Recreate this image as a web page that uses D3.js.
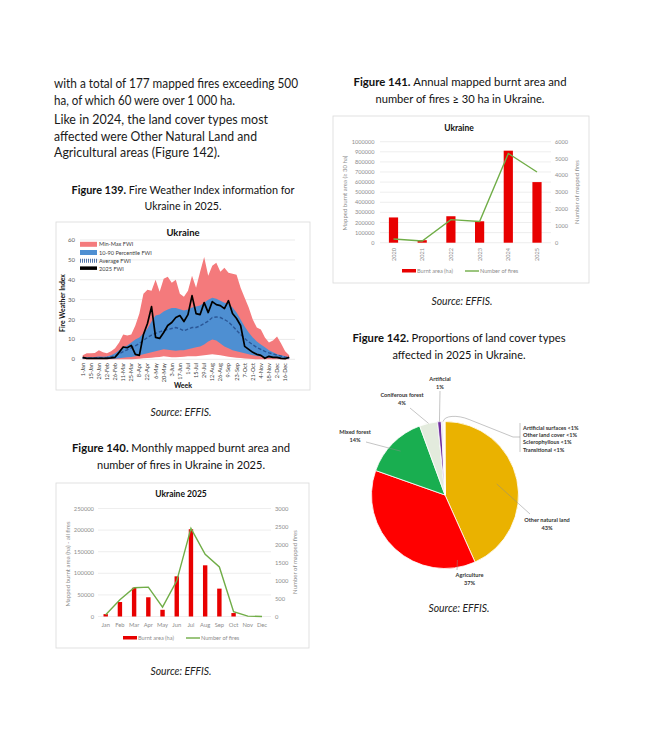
<!DOCTYPE html>
<html><head><meta charset="utf-8">
<script src="https://cdn.jsdelivr.net/npm/d3@7"></script>
<style>
body{margin:0;background:#fff;}
svg{display:block;}
text{font-family:Lato,"Open Sans",sans-serif;}
</style>
</head><body>
<svg id="c" width="652" height="743"></svg>
<script>
// ---------------- DATA ----------------
const bodyLines = [
  "with a total of 177 mapped fires exceeding 500",
  "ha, of which 60 were over 1 000 ha.",
  "Like in 2024, the land cover types most",
  "affected were Other Natural Land and",
  "Agricultural areas (Figure 142)."
];
const weekLabels = ["1-Jan","15-Jan","29-Jan","12-Feb","26-Feb","11-Mar","25-Mar","8-Apr","22-Apr","6-May","20-May","3-Jun","17-Jun","1-Jul","15-Jul","29-Jul","12-Aug","26-Aug","9-Sep","23-Sep","7-Oct","21-Oct","4-Nov","18-Nov","2-Dec","16-Dec"];
const fwiTicks = [0,10,20,30,40,50,60];
const fwiMax = [2.0,3.0,3.0,3.2,4.5,3.5,3.0,4.0,5.5,8.5,12.5,12.0,12.5,17.0,23.0,33.0,35.0,34.5,40.0,34.0,40.5,41.5,38.5,40.0,33.0,31.5,34.5,42.0,36.0,44.0,51.5,42.0,47.0,48.5,44.0,46.0,43.5,43.0,42.5,36.0,31.0,26.0,20.0,16.0,15.0,11.0,8.5,9.5,11.5,8.0,4.0,2.0];
const fwiMin = [0,0,0,0,0,0,0,0,0,0,0,0,0,0.2,0.3,0.5,0.7,0.8,1.0,1.2,1.5,1.3,1.0,1.0,1.2,1.3,1.5,1.5,1.5,1.8,2.0,2.3,2.5,2.3,2.0,1.6,1.3,1.0,0.8,0.6,0.4,0.3,0.1,0,0,0,0,0,0,0,0,0];
const fwiP90 = [1.2,1.0,1.0,1.2,1.4,1.3,1.4,2.0,3.0,4.5,6.0,7.0,8.5,10.0,11.0,13.0,15.5,19.0,22.0,22.5,24.0,25.0,25.8,25.8,25.2,24.5,25.0,26.0,26.5,27.0,28.5,30.0,31.0,30.5,29.5,28.5,28.0,26.0,23.5,20.0,16.5,13.5,11.0,9.0,7.5,6.0,4.5,3.5,2.5,2.0,1.5,1.0];
const fwiP10 = [0.2,0.2,0.2,0.2,0.2,0.2,0.2,0.3,0.3,0.5,0.8,1.0,1.2,1.5,2.0,2.5,3.0,3.5,4.0,4.5,5.0,4.8,4.5,4.3,4.5,4.5,5.0,5.5,6.0,6.5,7.5,9.0,10.0,9.5,8.0,6.5,5.5,4.5,4.0,3.5,3.0,2.5,2.0,1.7,1.4,1.1,0.9,0.7,0.5,0.4,0.3,0.2];
const fwiAvg = [0.8,0.6,0.6,0.7,0.8,0.8,0.9,1.2,1.8,2.8,3.8,4.8,5.8,6.8,8.0,9.5,11.0,12.2,13.0,13.8,14.5,15.0,15.5,16.0,15.3,14.3,15.2,16.0,16.0,16.8,18.0,19.2,21.0,21.3,21.0,20.0,18.8,16.8,14.6,12.5,10.5,8.8,7.3,6.0,5.0,4.0,3.2,2.7,2.1,1.6,1.1,0.8];
const fwi2025 = [1.0,0.5,0.5,0.5,0.5,0.5,0.5,0.7,1.0,3.5,6.2,5.8,7.0,2.5,2.0,12.5,18.0,26.5,11.0,10.5,13.5,17.0,18.5,21.0,22.0,19.0,22.5,32.0,23.0,22.5,28.5,23.5,29.0,27.5,27.0,25.5,29.5,23.0,20.5,17.0,6.5,5.0,3.5,2.5,2.0,0.5,1.5,1.0,1.0,0.5,0.3,1.0];

const months = ["Jan","Feb","Mar","Apr","May","Jun","Jul","Aug","Sep","Oct","Nov","Dec"];
const monthlyArea = [5500,33500,66500,44500,15500,93000,202000,118500,64500,8000,0,0];
const monthlyFires = [50,465,800,815,260,990,2450,1730,1375,135,10,0];
const monthlyAreaTicks = [0,50000,100000,150000,200000,250000];
const monthlyFireTicks = [0,500,1000,1500,2000,2500,3000];

const years = ["2020","2021","2022","2023","2024","2025"];
const annualArea = [250000,25000,262000,212000,911000,600000];
const annualFires = [220,100,1370,1260,5300,4200];
const annualAreaTicks = [0,100000,200000,300000,400000,500000,600000,700000,800000,900000,1000000];
const annualFireTicks = [0,1000,2000,3000,4000,5000,6000];

const landNames = ["Other natural land","Agriculture","Mixed forest","Coniferous forest","Artificial","Artificial surfaces","Other land cover","Sclerophyllous","Transitional"];
const landShare = [43.3,37.1,14.0,4.0,0.8,0.3,0.2,0.2,0.1];
const landLabels = ["43%","37%","14%","4%","1%","<1%","<1%","<1%","<1%"];
const landColors = ["#EAB200","#FF0000","#19AE50","#E3EBDD","#7030A0","#BFBFBF","#D9D9D9","#EDEDED","#FFF2CC"];

// ---------------- HELPERS ----------------
const svg = d3.select("#c");
svg.append("rect").attr("width",652).attr("height",743).attr("fill","#fff");

function fitText(t, w){ t.attr("textLength", w).attr("lengthAdjust","spacingAndGlyphs"); return t; }

function caption(cx, y1, y2, bold, l1, l2, w1, w2){
  const t = svg.append("text").attr("x",cx).attr("y",y1).attr("text-anchor","middle")
    .style("font-size","11.5px").attr("fill","#111");
  t.append("tspan").attr("font-weight","bold").text(bold+" ");
  t.append("tspan").text(l1);
  fitText(t,w1);
  fitText(svg.append("text").attr("x",cx).attr("y",y2).attr("text-anchor","middle")
    .style("font-size","11.5px").attr("fill","#111").text(l2), w2);
}
function source(cx, y){
  fitText(svg.append("text").attr("x",cx).attr("y",y).attr("text-anchor","middle")
    .style("font-size","11px").style("font-style","italic").attr("fill","#222").text("Source: EFFIS."), 61);
}
function box(x,y,w,h){
  svg.append("rect").attr("x",x).attr("y",y).attr("width",w).attr("height",h)
    .attr("fill","#fff").attr("stroke","#D9D9D9").attr("stroke-width",0.8);
}

// ---------------- BODY TEXT ----------------
const bodyY = [88,105,124,141,157];
const bodyW = [244,181,214,203,166];
bodyLines.forEach((s,i)=>{
  fitText(svg.append("text").attr("x",54).attr("y",bodyY[i]).style("font-size","13px").attr("fill","#1a1a1a").text(s), bodyW[i]);
});

// ---------------- FIGURE 139 : FWI ----------------
caption(183, 194, 210, "Figure 139.", "Fire Weather Index information for", "Ukraine in 2025.", 223, 77);
box(56,222,254,168);
{
  const x = d3.scaleLinear().domain([0,51]).range([82.7,289.2]);
  const y = d3.scaleLinear().domain([0,60]).range([359.3,240]);
  const g = svg.append("g");
  g.selectAll("line.grid").data(fwiTicks).join("line")
    .attr("x1",80).attr("x2",295).attr("y1",d=>y(d)).attr("y2",d=>y(d))
    .attr("stroke","#E3E3E3").attr("stroke-width",0.7);
  g.selectAll("text.yt").data(fwiTicks).join("text")
    .attr("x",75).attr("y",d=>y(d)+2).attr("text-anchor","end")
    .style("font-size","6px").attr("fill","#595959").text(d=>d);
  const idx = d3.range(52);
  g.append("path").datum(idx).attr("fill","#F47A7C")
    .attr("d", d3.area().x(i=>x(i)).y0(i=>y(fwiMin[i])).y1(i=>y(fwiMax[i])));
  g.append("path").datum(idx).attr("fill","#4E8FD2")
    .attr("d", d3.area().x(i=>x(i)).y0(i=>y(fwiP10[i])).y1(i=>y(fwiP90[i])));
  g.append("path").datum(idx).attr("fill","none").attr("stroke","#2B5797").attr("stroke-width",1.4)
    .attr("stroke-dasharray","3.5,2")
    .attr("d", d3.line().x(i=>x(i)).y(i=>y(fwiAvg[i])));
  g.append("path").datum(idx).attr("fill","none").attr("stroke","#000").attr("stroke-width",1.7)
    .attr("stroke-linejoin","round")
    .attr("d", d3.line().x(i=>x(i)).y(i=>y(fwi2025[i])));
  g.selectAll("text.xt").data(weekLabels).join("text")
    .attr("transform",(d,k)=>`translate(${x(2*k)+2},363) rotate(-90)`)
    .attr("text-anchor","end").style("font-size","5.6px").attr("fill","#404040").text(d=>d);
  g.append("text").attr("x",183).attr("y",235.5).attr("text-anchor","middle")
    .style("font-size","9.5px").attr("font-weight","bold").attr("fill","#111").text("Ukraine");
  g.append("text").attr("transform","translate(64.5,303) rotate(-90)").attr("text-anchor","middle")
    .style("font-size","6.8px").attr("font-weight","bold").attr("fill","#111").text("Fire Weather Index");
  g.append("text").attr("x",183).attr("y",388).attr("text-anchor","middle")
    .style("font-size","7px").attr("font-weight","bold").attr("fill","#111").text("Week");
  // legend
  const leg = [
    {n:"Min-Max FWI",t:"rect",c:"#F47A7C"},
    {n:"10-90 Percentile FWI",t:"rect",c:"#4E8FD2"},
    {n:"Average FWI",t:"dash",c:"#2B5797"},
    {n:"2025 FWI",t:"rect",c:"#000"}
  ];
  const ly = [244.3,252.5,260.7,268.9];
  leg.forEach((l,i)=>{
    if(l.t==="rect") g.append("rect").attr("x",80).attr("y",ly[i]-2.5).attr("width",17).attr("height",l.c==="#000"?3.5:5).attr("fill",l.c);
    else g.append("line").attr("x1",80).attr("x2",97).attr("y1",ly[i]).attr("y2",ly[i]).attr("stroke",l.c).attr("stroke-width",4).attr("stroke-dasharray","1,1").attr("opacity",0.8);
    g.append("text").attr("x",99).attr("y",ly[i]+2).style("font-size","5.6px").attr("fill","#404040").text(l.n);
  });
}
source(181, 416);

// ---------------- FIGURE 140 : MONTHLY ----------------
caption(181, 452, 469, "Figure 140.", "Monthly mapped burnt area and", "number of fires in Ukraine in 2025.", 218, 168);
box(56,483,253,165);
{
  const x = d3.scalePoint().domain(months).range([105.7,262]);
  const ya = d3.scaleLinear().domain([0,250000]).range([616.5,508.5]);
  const yf = d3.scaleLinear().domain([0,3000]).range([616.5,508.5]);
  const g = svg.append("g");
  g.selectAll("line.grid").data(monthlyAreaTicks).join("line")
    .attr("x1",98).attr("x2",271).attr("y1",d=>ya(d)).attr("y2",d=>ya(d))
    .attr("stroke","#E6E6E6").attr("stroke-width",0.7);
  g.selectAll("text.yl").data(monthlyAreaTicks).join("text")
    .attr("x",94).attr("y",d=>ya(d)+2).attr("text-anchor","end")
    .style("font-size","5.8px").attr("fill","#8C8C8C").text(d=>d);
  g.selectAll("text.yr").data(monthlyFireTicks).join("text")
    .attr("x",275).attr("y",d=>yf(d)+2).style("font-size","5.8px").attr("fill","#8C8C8C").text(d=>d);
  g.selectAll("rect.bar").data(monthlyArea).join("rect")
    .attr("x",(d,i)=>x(months[i])-2.2).attr("width",4.4)
    .attr("y",d=>ya(d)).attr("height",d=>ya(0)-ya(d)).attr("fill","#E80000");
  g.append("path").datum(monthlyFires).attr("fill","none").attr("stroke","#70AD47").attr("stroke-width",1.4)
    .attr("d", d3.line().x((d,i)=>x(months[i])).y(d=>yf(d)));
  g.selectAll("text.xt").data(months).join("text")
    .attr("x",d=>x(d)).attr("y",627).attr("text-anchor","middle")
    .style("font-size","5.8px").attr("fill","#8C8C8C").text(d=>d);
  g.append("text").attr("x",181).attr("y",497).attr("text-anchor","middle")
    .style("font-size","8.5px").attr("font-weight","bold").attr("fill","#111").text("Ukraine 2025");
  g.append("text").attr("transform","translate(70,564) rotate(-90)").attr("text-anchor","middle")
    .style("font-size","6px").attr("fill","#8C8C8C").text("Mapped burnt area (ha) - all fires");
  g.append("text").attr("transform","translate(297,562) rotate(-90)").attr("text-anchor","middle")
    .style("font-size","6px").attr("fill","#8C8C8C").text("Number of mapped fires");
  g.append("rect").attr("x",123).attr("y",636).attr("width",14).attr("height",3.5).attr("fill","#E80000");
  g.append("text").attr("x",138).attr("y",640).style("font-size","5.6px").attr("fill","#8C8C8C").text("Burnt area (ha)");
  g.append("line").attr("x1",186).attr("x2",200).attr("y1",638).attr("y2",638).attr("stroke","#70AD47").attr("stroke-width",1.4);
  g.append("text").attr("x",201).attr("y",640).style("font-size","5.6px").attr("fill","#8C8C8C").text("Number of fires");
}
source(181, 675);

// ---------------- FIGURE 141 : ANNUAL ----------------
caption(460, 86, 103, "Figure 141.", "Annual mapped burnt area and", "number of fires \u2265 30 ha in Ukraine.", 213, 169);
box(333,116,256,167);
{
  const x = d3.scalePoint().domain(years).range([393.5,537]);
  const ya = d3.scaleLinear().domain([0,1000000]).range([242.7,141.7]);
  const yf = d3.scaleLinear().domain([0,6000]).range([242.7,141.7]);
  const g = svg.append("g");
  g.selectAll("line.grid").data(annualAreaTicks).join("line")
    .attr("x1",380).attr("x2",551).attr("y1",d=>ya(d)).attr("y2",d=>ya(d))
    .attr("stroke","#E6E6E6").attr("stroke-width",0.7);
  g.selectAll("text.yl").data(annualAreaTicks).join("text")
    .attr("x",374.5).attr("y",d=>ya(d)+2).attr("text-anchor","end")
    .style("font-size","5.6px").attr("fill","#8C8C8C").text(d=>d);
  g.selectAll("text.yr").data(annualFireTicks).join("text")
    .attr("x",555).attr("y",d=>yf(d)+2).style("font-size","5.6px").attr("fill","#8C8C8C").text(d=>d);
  g.selectAll("rect.bar").data(annualArea).join("rect")
    .attr("x",(d,i)=>x(years[i])-4.6).attr("width",9.2)
    .attr("y",d=>ya(d)).attr("height",d=>ya(0)-ya(d)).attr("fill","#E80000");
  g.append("path").datum(annualFires).attr("fill","none").attr("stroke","#70AD47").attr("stroke-width",1.4)
    .attr("d", d3.line().x((d,i)=>x(years[i])).y(d=>yf(d)));
  g.selectAll("text.xt").data(years).join("text")
    .attr("transform",d=>`translate(${x(d)+2},248) rotate(-90)`).attr("text-anchor","end")
    .style("font-size","5.6px").attr("fill","#8C8C8C").text(d=>d);
  g.append("text").attr("x",459).attr("y",130.5).attr("text-anchor","middle")
    .style("font-size","8.5px").attr("font-weight","bold").attr("fill","#111").text("Ukraine");
  g.append("text").attr("transform","translate(347,193) rotate(-90)").attr("text-anchor","middle")
    .style("font-size","6px").attr("fill","#8C8C8C").text("Mapped burnt area (\u2265 30 ha)");
  g.append("text").attr("transform","translate(579,192) rotate(-90)").attr("text-anchor","middle")
    .style("font-size","6px").attr("fill","#8C8C8C").text("Number of mapped fires");
  g.append("rect").attr("x",402).attr("y",269).attr("width",14).attr("height",3.5).attr("fill","#E80000");
  g.append("text").attr("x",417).attr("y",273).style("font-size","5.6px").attr("fill","#8C8C8C").text("Burnt area (ha)");
  g.append("line").attr("x1",465).attr("x2",479).attr("y1",271).attr("y2",271).attr("stroke","#70AD47").attr("stroke-width",1.4);
  g.append("text").attr("x",480).attr("y",273).style("font-size","5.6px").attr("fill","#8C8C8C").text("Number of fires");
}
source(462, 305);

// ---------------- FIGURE 142 : PIE ----------------
caption(459, 342, 359, "Figure 142.", "Proportions of land cover types", "affected in 2025 in Ukraine.", 213, 133);
{
  const cx = 445, cy = 495, r = 73.5;
  const pie = d3.pie().sort(null).startAngle(0).endAngle(2*Math.PI)(landShare);
  const arc = d3.arc().innerRadius(0).outerRadius(r);
  const g = svg.append("g").attr("transform",`translate(${cx},${cy})`);
  g.selectAll("path").data(pie).join("path").attr("d",arc)
    .attr("fill",(d,i)=>landColors[i]).attr("stroke","#fff").attr("stroke-width",0.8);
  const pt = (ang, rr)=>[cx + rr*Math.sin(ang), cy - rr*Math.cos(ang)];
  const mid = i => (pie[i].startAngle + pie[i].endAngle)/2;
  const lab = svg.append("g").attr("fill","#333").style("font-size","5.6px").attr("font-weight","bold");
  const lead = svg.append("g").attr("stroke","#8a8a8a").attr("stroke-width",0.5).attr("fill","none");
  // [index, label x, label y (first line baseline), leader end x, leader end y, leader radius fraction]
  const labelSpec = [
    [4, 440, 380.5, 440, 391, 1.0],
    [3, 402, 396.5, 410, 408, 1.0],
    [2, 355, 434, 366, 442, 0.85],
    [0, 547, 521.5, 530, 514, 0.72],
    [1, 469.5, 576.5, 457, 570, 0.9]
  ];
  labelSpec.forEach(([i,lx,ly,ex,ey,rf])=>{
    let p;
    if(i===1) p = pt(Math.PI*0.94, r*rf); else p = pt(mid(i), r*rf);
    lead.append("line").attr("x1",p[0]).attr("y1",p[1]).attr("x2",ex).attr("y2",ey);
    lab.append("text").attr("x",lx).attr("y",ly).attr("text-anchor","middle").text(landNames[i]);
    lab.append("text").attr("x",lx).attr("y",ly+8.3).attr("text-anchor","middle").text(landLabels[i]);
  });
  // small categories grouped box
  const smallStart = pie[5].startAngle, smallEnd = pie[8].endAngle;
  const s = pt((smallStart+smallEnd)/2, r);
  lead.append("path").attr("d",`M${s[0]},${s[1]} C${s[0]+1},${s[1]-6} ${s[0]+14},${s[1]-7} ${s[0]+26},${s[1]-2} L${513},${437} L${520},${437}`);
  lead.append("line").attr("x1",520).attr("x2",520).attr("y1",423).attr("y2",452);
  [5,6,7,8].forEach((i,k)=>{
    lab.append("text").attr("x",523).attr("y",430+k*7.2).text(landNames[i]+" "+landLabels[i]);
  });
}
source(459, 612);
</script>
</body></html>
